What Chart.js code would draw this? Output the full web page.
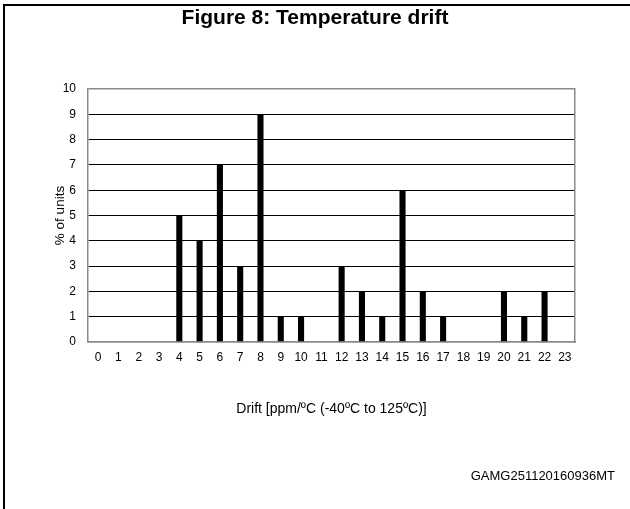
<!DOCTYPE html>
<html>
<head>
<meta charset="utf-8">
<script src="https://cdn.jsdelivr.net/npm/chart.js@4/dist/chart.umd.min.js"></script>
<style>
  body { margin: 0; background: #fff; }
  #lienzo { display: block; }
</style>
</head>
<body>
<div style="width:630px;height:509px;position:relative">
  <canvas id="lienzo" width="630" height="509"></canvas>
</div>
<script>
// datos
const categorias = ['0','1','2','3','4','5','6','7','8','9','10','11','12','13','14','15','16','17','18','19','20','21','22','23'];
const porcentajes = [0,0,0,0,5,4,7,3,9,1,1,0,3,2,1,6,2,1,0,0,2,1,2,0];
const ticksY = [0,1,2,3,4,5,6,7,8,9,10];

const titulo = 'Figure 8: Temperature drift';
const tituloX = 'Drift [ppm/ºC (-40ºC to 125ºC)]';
const tituloY = '% of units';
const codigo = 'GAMG251120160936MT';

const fuente = 'Liberation Sans, Arial, sans-serif';
const gris = '#8a8a8a';

// marco de la figura y codigo de referencia
const marco = {
    id: 'marco',
    afterDraw(chart) {
        const ctx = chart.ctx;
        ctx.save();
        ctx.strokeStyle = '#000';
        ctx.lineWidth = 2;
        ctx.beginPath();
        ctx.moveTo(4, 509);
        ctx.lineTo(4, 5);
        ctx.lineTo(630, 5);
        ctx.stroke();
        ctx.fillStyle = '#000';
        ctx.font = '13px ' + fuente;
        ctx.textAlign = 'right';
        ctx.textBaseline = 'middle';
        ctx.fillText(codigo, 615, 476);
        ctx.restore();
    }
};

new Chart(document.getElementById('lienzo'), {
    type: 'bar',
    data: {
        labels: categorias,
        datasets: [{
            data: porcentajes,
            backgroundColor: '#000',
            borderWidth: 0,
            barPercentage: 0.3,
            categoryPercentage: 1
        }]
    },
    options: {
        responsive: false,
        animation: false,
        layout: { padding: 0 },
        plugins: {
            legend: { display: false },
            tooltip: { enabled: false },
            title: {
                display: true,
                text: titulo,
                color: '#000',
                font: { family: fuente, size: 21, weight: 'bold' },
                padding: { top: 6, bottom: 57.8 }
            }
        },
        scales: {
            x: {
                grid: { display: false },
                border: { display: true, color: gris, width: 1.5 },
                ticks: {
                    color: '#000',
                    font: { family: fuente, size: 12 },
                    padding: 0,
                    maxRotation: 0,
                    autoSkip: false
                },
                title: {
                    display: true,
                    text: tituloX,
                    color: '#000',
                    font: { family: fuente, size: 14 },
                    padding: { top: 0, bottom: 91.2 }
                },
                afterFit(scale) { scale.height = 167; }
            },
            y: {
                min: 0,
                max: 10,
                afterBuildTicks(scale) { scale.ticks = ticksY.map(v => ({ value: v })); },
                grid: {
                    drawTicks: false,
                    color: ctx => (ctx.tick.value === 0 || ctx.tick.value === 10) ? gris : '#000',
                    lineWidth: ctx => (ctx.tick.value === 0 || ctx.tick.value === 10) ? 1.5 : 1
                },
                border: { display: true, color: gris, width: 1.5 },
                ticks: {
                    color: '#000',
                    font: { family: fuente, size: 12 },
                    padding: 12
                },
                title: {
                    display: true,
                    text: tituloY,
                    color: '#000',
                    font: { family: fuente, size: 13.5 },
                    padding: { top: 52, bottom: 0 }
                },
                afterFit(scale) { scale.width = 88; }
            },
            derecha: {
                position: 'right',
                min: 0,
                max: 10,
                grid: { display: false },
                ticks: { display: false },
                border: { display: true, color: gris, width: 1.5 },
                afterFit(scale) { scale.width = 55; }
            }
        }
    },
    plugins: [marco]
});
</script>
</body>
</html>
